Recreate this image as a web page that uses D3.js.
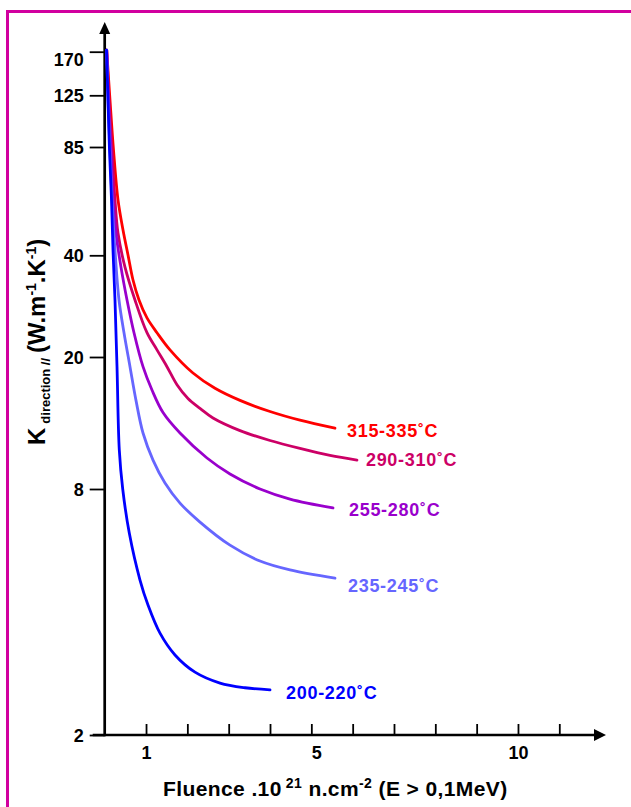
<!DOCTYPE html>
<html>
<head>
<meta charset="utf-8">
<script src="https://cdn.jsdelivr.net/npm/d3@7"></script>
<style>
  html, body { margin: 0; padding: 0; background: #fff; }
  svg { display: block; }
  text { font-family: "Liberation Sans", Arial, Helvetica, sans-serif; font-weight: bold; }
</style>
</head>
<body>
<svg id="chart" width="631" height="807"></svg>
<script>
// ---------- data ----------
const yTickValues = [2, 8, 20, 40, 85, 125, 170];
const xTickValues = [1, 2, 3, 4, 5, 6, 7, 8, 9, 10, 11];
const xTickLabels = [1, 5, 10];

const seriesNames = ["315-335˚C", "290-310˚C", "255-280˚C", "235-245˚C", "200-220˚C"];

const fluence315 = [0.048,0.128,0.213,0.322,0.443,0.564,0.685,0.830,1.023,1.265,1.580,2.136,2.669,3.274,4.000,4.725,5.572];
const k315       = [172,120.7,83.2,58.8,47.7,40.1,33.8,29.5,26.1,23.6,21.0,17.9,16.1,14.8,13.7,12.9,12.2];

const fluence290 = [0.048,0.104,0.177,0.249,0.322,0.491,0.733,1.023,1.265,1.507,1.749,2.015,2.306,2.620,3.274,4.000,4.725,5.451,6.104];
const k290       = [172,120.7,83.2,58.8,46.7,36.9,29.5,23.6,21.0,18.7,16.5,15.0,14.0,13.1,12.0,11.2,10.6,10.1,9.78];

const fluence255 = [0.048,0.092,0.152,0.201,0.273,0.394,0.540,0.709,0.927,1.144,1.411,1.822,2.475,3.032,3.758,4.483,5.524];
const k255       = [172,120.7,83.2,58.8,46.7,36.9,29.5,23.6,18.7,15.9,13.6,11.8,9.92,8.88,8.0,7.56,7.19];

const fluence235 = [0.048,0.080,0.128,0.177,0.249,0.346,0.467,0.612,0.757,0.927,1.169,1.459,1.822,2.306,3.032,3.758,4.483,5.572];
const k235       = [172,120.7,83.2,58.8,41.5,29.5,23.6,18.7,14.8,11.8,9.78,8.34,7.39,6.64,5.83,5.33,5.07,4.84];

const fluence200 = [0.044,0.080,0.116,0.165,0.201,0.249,0.298,0.353,0.436,0.595,0.854,1.048,1.338,1.701,2.185,2.790,3.395,4.000];
const k200       = [172,120.7,83.2,58.8,41.5,29.5,18.7,10.5,8.0,6.24,4.79,4.16,3.55,3.14,2.85,2.68,2.61,2.58];

// ---------- style / layout ----------
const colors = ["#ff0000", "#cc0066", "#9900cc", "#6666ff", "#0000ff"];
const labelOffsets = [[12, 9], [9, 6], [16, 8], [13, 14], [16, 9]];

const series = [
  { name: seriesNames[0], x: fluence315, y: k315 },
  { name: seriesNames[1], x: fluence290, y: k290 },
  { name: seriesNames[2], x: fluence255, y: k255 },
  { name: seriesNames[3], x: fluence235, y: k235 },
  { name: seriesNames[4], x: fluence200, y: k200 }
];

const svg = d3.select("#chart");

// frame
svg.append("rect")
  .attr("x", 7.5).attr("y", 11.5)
  .attr("width", 800).attr("height", 900)
  .attr("fill", "none")
  .attr("stroke", "#d1009f")
  .attr("stroke-width", 3);

// scales (the reference's y axis is a non-uniform log axis)
const x = d3.scaleLinear().domain([0, 11]).range([104.7, 559.3]);
const y = d3.scaleLog()
  .domain(yTickValues)
  .range([735, 489, 357, 255.3, 147, 95.3, 51.7]);

const x0 = x(0), y0 = y(2);

// y axis ticks & labels
const yAxis = d3.axisLeft(y)
  .tickValues(yTickValues)
  .tickFormat(d3.format("d"))
  .tickSize(15)
  .tickPadding(6);
const gy = svg.append("g")
  .attr("transform", `translate(${x0},0)`)
  .call(yAxis);
gy.select(".domain").remove();
gy.selectAll(".tick line").attr("stroke", "#000").attr("stroke-width", 1.8);
gy.selectAll(".tick text")
  .attr("fill", "#000")
  .style("font-size", "18px")
  .style("font-family", "'Liberation Sans', Arial, sans-serif")
  .style("font-weight", "bold")
  .attr("dy", d => d === 170 ? "0.75em" : "0.36em");

// x axis ticks & labels
const xAxis = d3.axisBottom(x)
  .tickValues(xTickValues)
  .tickFormat(d => xTickLabels.includes(d) ? String(d) : "")
  .tickSizeInner(-11)
  .tickSizeOuter(0)
  .tickPadding(11);
const gx = svg.append("g")
  .attr("transform", `translate(0,${y0})`)
  .call(xAxis);
gx.select(".domain").remove();
gx.selectAll(".tick line").attr("stroke", "#000").attr("stroke-width", 1.8);
gx.selectAll(".tick text")
  .attr("fill", "#000")
  .style("font-size", "18px")
  .style("font-family", "'Liberation Sans', Arial, sans-serif")
  .style("font-weight", "bold")
  .attr("dx", d => d === 5 ? 5 : 0);

// axis lines with arrows
const axisG = svg.append("g");
axisG.append("line")
  .attr("x1", x0).attr("y1", y0 + 1.3)
  .attr("x2", x0).attr("y2", 30)
  .attr("stroke", "#000").attr("stroke-width", 2.7);
axisG.append("path")
  .attr("d", `M${x0},22 L${x0 - 5.5},34 L${x0 + 5.5},34 Z`)
  .attr("fill", "#000");
axisG.append("line")
  .attr("x1", 92.7).attr("y1", y0)
  .attr("x2", 598).attr("y2", y0)
  .attr("stroke", "#000").attr("stroke-width", 2.7);
axisG.append("path")
  .attr("d", `M606,${y0} L594,${y0 - 6} L594,${y0 + 6} Z`)
  .attr("fill", "#000");

// curves
const line = d3.line()
  .x(d => x(d[0]))
  .y(d => y(d[1]))
  .curve(d3.curveCatmullRom.alpha(0.5));

series.forEach((s, i) => {
  const pts = s.x.map((v, j) => [v, s.y[j]]);
  svg.append("path")
    .datum(pts)
    .attr("d", line)
    .attr("fill", "none")
    .attr("stroke", colors[i])
    .attr("stroke-width", 2.8)
    .attr("stroke-linecap", "round")
    .attr("stroke-linejoin", "round");
  const last = pts[pts.length - 1];
  svg.append("text")
    .attr("x", x(last[0]) + labelOffsets[i][0])
    .attr("y", y(last[1]) + labelOffsets[i][1])
    .attr("fill", colors[i])
    .style("font-size", "18px")
    .style("letter-spacing", "0.7px")
    .text(s.name);
});

// x axis title
const xt = svg.append("text")
  .attr("x", 163).attr("y", 796)
  .attr("fill", "#000")
  .style("font-size", "21px")
  .style("letter-spacing", "0.4px");
xt.append("tspan").text("Fluence .10");
xt.append("tspan").attr("dy", -8).attr("dx", 4).style("font-size", "14px").text("21");
xt.append("tspan").attr("dy", 8).text(" n.cm");
xt.append("tspan").attr("dy", -8).style("font-size", "14px").text("-2");
xt.append("tspan").attr("dy", 8).text(" (E > 0,1MeV)");

// y axis title (rotated)
const yt = svg.append("text")
  .attr("transform", "translate(45,445) rotate(-90)")
  .attr("fill", "#000")
  .style("font-size", "24px");
yt.append("tspan").text("K");
yt.append("tspan").attr("dy", 5).attr("dx", 4).style("font-size", "13px").text("direction //");
yt.append("tspan").attr("dy", -5).attr("dx", 5).text("(W.m");
yt.append("tspan").attr("dy", -9).style("font-size", "14px").text("-1");
yt.append("tspan").attr("dy", 9).text(".K");
yt.append("tspan").attr("dy", -9).style("font-size", "14px").text("-1");
yt.append("tspan").attr("dy", 9).text(")");
</script>
</body>
</html>
